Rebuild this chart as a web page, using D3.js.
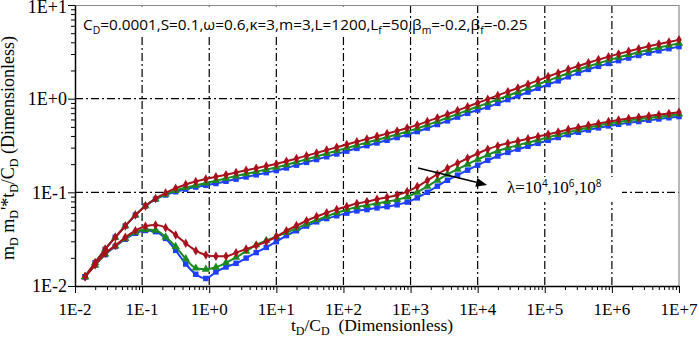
<!DOCTYPE html>
<html><head><meta charset="utf-8">
<script src="https://cdn.jsdelivr.net/npm/d3@7"></script>
<style>html,body{margin:0;padding:0;background:#fff;} svg{display:block;}</style>
</head><body><svg id="c" width="699" height="337"></svg>
<script>
// dimensionless time tD/CD of every plotted point
const tD = [0.01413,0.01995,0.02818,0.03981,0.05623,0.07943,0.1122,0.1585,0.2239,0.3162,
  0.4467,0.631,0.8913,1.259,1.778,2.512,3.548,5.012,7.079,10,
  14.13,19.95,28.18,39.81,56.23,79.43,112.2,158.5,223.9,316.2,
  446.7,631,891.3,1259,1778,2512,3548,5012,7079,10000,
  14130,19950,28180,39810,56230,79430,112200,158500,223900,316200,
  446700,631000,891300,1259000,1778000,2512000,3548000,5012000,7079000,10000000];

// pressure mD, lambda = 1e4 / 1e6 / 1e8
const mD_l4 = [0.01256,0.01774,0.02466,0.03311,0.04375,0.05715,0.07161,0.0859,0.09863,0.1107,
  0.1213,0.1306,0.139,0.1466,0.1545,0.1629,0.1718,0.1811,0.191,0.2009,
  0.2143,0.2296,0.246,0.2636,0.2825,0.3027,0.3243,0.3467,0.3707,0.3963,
  0.4236,0.4529,0.4853,0.5248,0.5715,0.6237,0.6823,0.7482,0.8204,0.9016,
  0.9886,1.084,1.189,1.300,1.429,1.570,1.722,1.884,2.056,2.234,
  2.421,2.612,2.805,3.006,3.206,3.412,3.622,3.828,4.036,4.246];
const mD_l6 = [0.01256,0.01774,0.02466,0.03311,0.04375,0.05715,0.07161,0.08492,0.09528,0.1045,
  0.1124,0.1191,0.1254,0.1331,0.1409,0.1495,0.1577,0.1663,0.1753,0.1844,
  0.1967,0.2108,0.2258,0.242,0.2593,0.2779,0.2977,0.3183,0.3403,0.3638,
  0.3889,0.4158,0.4455,0.4818,0.5246,0.5726,0.6264,0.6868,0.7531,0.8241,
  0.8957,0.9821,1.077,1.178,1.295,1.422,1.560,1.707,1.875,2.051,
  2.222,2.398,2.575,2.760,2.943,3.132,3.325,3.514,3.705,3.898];
const mD_l8 = [0.01256,0.01774,0.02466,0.03311,0.04375,0.05715,0.07161,0.08433,0.09376,0.1014,
  0.1081,0.1138,0.1188,0.1242,0.1312,0.1383,0.1459,0.1538,0.1622,0.1706,
  0.182,0.195,0.2089,0.2239,0.2399,0.2571,0.2754,0.2944,0.3148,0.3365,
  0.3597,0.3846,0.4121,0.4457,0.4853,0.5296,0.5794,0.6354,0.6967,0.7569,
  0.8128,0.8913,0.9776,1.069,1.175,1.291,1.416,1.549,1.710,1.875,
  2.051,2.213,2.376,2.547,2.716,2.891,3.069,3.243,3.419,3.597];

// derivative mD'*tD/CD, lambda = 1e4 / 1e6 / 1e8
const dmD_l4 = [0.01256,0.01675,0.02234,0.02698,0.03311,0.03899,0.04345,0.04467,0.04198,0.03508,
  0.02858,0.02382,0.02138,0.02075,0.0208,0.02265,0.02483,0.02704,0.02972,0.03373,
  0.0389,0.04416,0.04977,0.05521,0.06053,0.06577,0.07079,0.07586,0.07962,0.08433,
  0.08851,0.09376,0.1019,0.1151,0.1334,0.156,0.1807,0.2046,0.2312,0.26,
  0.2884,0.3133,0.3342,0.354,0.3733,0.3936,0.4169,0.4416,0.4677,0.4932,
  0.5188,0.5445,0.5689,0.5916,0.6138,0.6339,0.6546,0.6745,0.695,0.7161];
const dmD_l6 = [0.01256,0.01675,0.02188,0.02667,0.03206,0.03733,0.04009,0.03936,0.03327,0.0263,
  0.0195,0.01549,0.01507,0.01585,0.0177,0.02018,0.02344,0.02742,0.03055,0.03373,
  0.03715,0.04121,0.04592,0.0507,0.05546,0.06053,0.06531,0.0695,0.07261,0.07638,
  0.07962,0.08356,0.08974,0.1002,0.1156,0.1346,0.1556,0.1762,0.1995,0.2244,
  0.2512,0.2761,0.2979,0.3192,0.3404,0.3622,0.3873,0.413,0.4395,0.4656,
  0.492,0.5176,0.542,0.5636,0.5848,0.6039,0.6237,0.6427,0.6622,0.6823];
const dmD_l8 = [0.01256,0.01675,0.02163,0.02642,0.03162,0.03656,0.03917,0.03802,0.03221,0.02399,
  0.01718,0.01334,0.01202,0.01413,0.01596,0.01746,0.01986,0.02275,0.02582,0.02972,
  0.03451,0.0389,0.04365,0.04842,0.05248,0.05623,0.05998,0.06339,0.06546,0.06823,
  0.07031,0.07362,0.0787,0.0873,0.1002,0.1164,0.1346,0.1524,0.1726,0.195,
  0.2198,0.2443,0.2667,0.2891,0.3105,0.3334,0.3589,0.3846,0.4121,0.4375,
  0.4624,0.4875,0.5117,0.5321,0.5521,0.5702,0.5888,0.6067,0.6252,0.6442];

const xTicks = [1e-2,1e-1,1e0,1e1,1e2,1e3,1e4,1e5,1e6,1e7];
const xTickLabels = ["1E-2","1E-1","1E+0","1E+1","1E+2","1E+3","1E+4","1E+5","1E+6","1E+7"];
const yTicks = [1e-2,1e-1,1e0,1e1];
const yTickLabels = ["1E-2","1E-1","1E+0","1E+1"];

const colors = {l8:"#1f3fff", l6:"#1b8a22", l4:"#a8121c"};

const svg = d3.select("#c");
const L=75, R=679, T=5, B=286;
const x = d3.scaleLog().domain([1e-2,1e7]).range([L,R]);
const y = d3.scaleLog().domain([1e-2,1e1]).range([B,T]);

function minorOf(ticks){
  const m=[];
  for(let i=0;i<ticks.length-1;i++) for(let k=2;k<=9;k++) m.push(ticks[i]*k);
  return m;
}

// gridlines
const grid = svg.append("g").attr("stroke","#000").attr("stroke-width",1.2).attr("stroke-dasharray","8,3,2,3");
grid.selectAll("line.v").data(xTicks.slice(1,-1)).join("line")
  .attr("x1",d=>x(d)).attr("x2",d=>x(d)).attr("y1",T).attr("y2",B);
grid.selectAll("line.h").data([1e-1,1e0]).join("line")
  .attr("x1",L).attr("x2",R).attr("y1",d=>y(d)).attr("y2",d=>y(d));

// frame top/right
svg.append("line").attr("x1",L).attr("x2",R).attr("y1",T+0.5).attr("y2",T+0.5).attr("stroke","#8a8a8a").attr("stroke-width",1.2);
svg.append("line").attr("x1",R).attr("x2",R).attr("y1",T).attr("y2",B).attr("stroke","#8a8a8a").attr("stroke-width",1.2);

// white box behind parameter label
svg.append("rect").attr("x",L+1).attr("y",T+1.5).attr("width",305).attr("height",30).attr("fill","#fff");

// axes
function styleAxis(g){ g.selectAll("line").attr("stroke","#000"); g.select(".domain").attr("stroke","#000").attr("stroke-width",1.5); }
svg.append("g").attr("transform",`translate(0,${B})`)
  .call(d3.axisBottom(x).tickValues(minorOf(xTicks)).tickSize(4).tickFormat(""))
  .call(g=>g.select(".domain").remove()).call(styleAxis);
svg.append("g").attr("transform",`translate(0,${B})`)
  .call(d3.axisBottom(x).tickValues(xTicks).tickSize(7).tickSizeOuter(0).tickFormat(""))
  .call(styleAxis);
svg.append("g").attr("transform",`translate(${L},0)`)
  .call(d3.axisLeft(y).tickValues(minorOf(yTicks)).tickSize(4).tickFormat(""))
  .call(g=>g.select(".domain").remove()).call(styleAxis);
svg.append("g").attr("transform",`translate(${L},0)`)
  .call(d3.axisLeft(y).tickValues(yTicks).tickSize(7).tickSizeOuter(0).tickFormat(""))
  .call(styleAxis);

// tick labels
const serif = "Liberation Serif, Times New Roman, serif";
svg.append("g").selectAll("text").data(xTicks).join("text")
  .attr("x",d=>x(d)).attr("y",314.5).attr("text-anchor","middle")
  .attr("font-family",serif).attr("font-size",17).attr("fill","#000")
  .text((d,i)=>xTickLabels[i]);
svg.append("g").selectAll("text").data(yTicks).join("text")
  .attr("x",67).attr("y",d=>Math.max(y(d),6.5)).attr("dy","0.36em").attr("text-anchor","end")
  .attr("font-family",serif).attr("font-size",18).attr("fill","#000")
  .text((d,i)=>yTickLabels[i]);

// axis titles
const xt = svg.append("text").attr("x",372).attr("y",331).attr("text-anchor","middle")
  .attr("font-family",serif).attr("font-size",17.5).attr("fill","#000");
xt.append("tspan").text("t");
xt.append("tspan").attr("font-size",12).attr("dy",4).text("D");
xt.append("tspan").attr("dy",-4).text("/C");
xt.append("tspan").attr("font-size",12).attr("dy",4).text("D");
xt.append("tspan").attr("dy",-4).text("\u00a0 (Dimensionless)");

const yt = svg.append("text").attr("transform","translate(14,148) rotate(-90)").attr("text-anchor","middle")
  .attr("font-family",serif).attr("font-size",18).attr("fill","#000");
yt.append("tspan").text("m");
yt.append("tspan").attr("font-size",12).attr("dy",4).text("D");
yt.append("tspan").attr("dy",-4).text(" m");
yt.append("tspan").attr("font-size",12).attr("dy",4).text("D");
yt.append("tspan").attr("dy",-4).text("'*t");
yt.append("tspan").attr("font-size",12).attr("dy",4).text("D");
yt.append("tspan").attr("dy",-4).text("/C");
yt.append("tspan").attr("font-size",12).attr("dy",4).text("D");
yt.append("tspan").attr("dy",-4).text(" (Dimensionless)");

// series
const series = [
  {v:mD_l8, c:colors.l8, s:d3.symbolSquare, z:30},
  {v:mD_l6, c:colors.l6, s:d3.symbolTriangle, z:30},
  {v:mD_l4, c:colors.l4, s:d3.symbolDiamond, z:26},
  {v:dmD_l8, c:colors.l8, s:d3.symbolSquare, z:30},
  {v:dmD_l6, c:colors.l6, s:d3.symbolTriangle, z:30},
  {v:dmD_l4, c:colors.l4, s:d3.symbolDiamond, z:26}
];
const line = d3.line().x((d,i)=>x(tD[i])).y(d=>y(d)).curve(d3.curveMonotoneX);
const order = [0,3,1,4,2,5];
order.forEach(k=>{
  const s = series[k];
  const g = svg.append("g");
  g.append("path").attr("d",line(s.v)).attr("fill","none").attr("stroke",s.c).attr("stroke-width",2);
  g.selectAll("path.m").data(s.v).join("path").attr("class","m")
    .attr("transform",(d,i)=>`translate(${x(tD[i])},${y(d)})`)
    .attr("d",d3.symbol().type(s.s).size(s.z)).attr("fill",s.c);
});

// parameter label
const sans = "'Open Sans','Liberation Sans',sans-serif";
const pl = svg.append("text").attr("x",x(0.01315)).attr("y",30)
  .attr("font-family",sans).attr("font-size",15).attr("fill","#000");
const parts = [["C",0],["D",1],["=0.0001,S=0.1,\u03c9=0.6,\u03ba=3,m=3,L=1200,L",0],["f",1],["=50,\u03b2",0],["m",1],["=-0.2,\u03b2",0],["f",1],["=-0.25",0]];
let sub=false;
parts.forEach(([t,s])=>{
  const ts = pl.append("tspan").text(t);
  if(s){ts.attr("font-size","0.68em").attr("dy",4); sub=true;}
  else if(sub){ts.attr("dy",-4); sub=false;}
});
const w = pl.node().getComputedTextLength();
pl.attr("font-size", 15*445/w);

// lambda annotation
const ax0 = x(1295), ay0 = y(0.182), ax1 = x(13800), ay1 = y(0.12);
svg.append("rect").attr("x",497).attr("y",177).attr("width",125).attr("height",25).attr("fill","#fff");
const ang = Math.atan2(ay1-ay0, ax1-ax0);
const hl = 11, hw = 4.5;
const bx = ax1 - hl*Math.cos(ang), by = ay1 - hl*Math.sin(ang);
svg.append("line").attr("x1",ax0).attr("y1",ay0).attr("x2",bx).attr("y2",by).attr("stroke","#000").attr("stroke-width",1.5);
svg.append("polygon").attr("fill","#000").attr("points",[
  [ax1,ay1],
  [bx - hw*Math.sin(ang), by + hw*Math.cos(ang)],
  [bx + hw*Math.sin(ang), by - hw*Math.cos(ang)]
].map(p=>p.join(",")).join(" "));
const lt = svg.append("text").attr("x",x(27400)).attr("y",y(0.0986)).attr("font-family",serif).attr("font-size",17).attr("fill","#000");
lt.append("tspan").text("\u03bb=10");
lt.append("tspan").attr("font-family",sans).attr("font-size",10).attr("dy",-6).text("4");
lt.append("tspan").attr("dy",6).text(",10");
lt.append("tspan").attr("font-family",sans).attr("font-size",10).attr("dy",-6).text("6");
lt.append("tspan").attr("dy",6).text(",10");
lt.append("tspan").attr("font-family",sans).attr("font-size",10).attr("dy",-6).text("8");
</script>
</body></html>
